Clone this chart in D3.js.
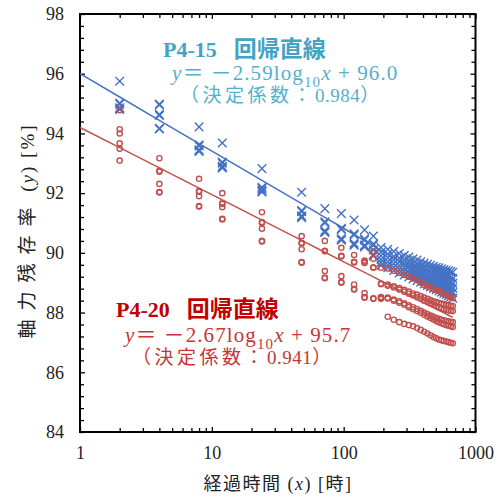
<!DOCTYPE html>
<html>
<head>
<meta charset="utf-8">
<script src="https://cdn.jsdelivr.net/npm/d3@7"></script>
<style>
  body { margin: 0; background: #fff; }
  svg { display: block; }
</style>
</head>
<body>
<svg id="chart" width="501" height="499"></svg>
<script>
// Elapsed time of each measurement [h]
const hours = [2, 4, 8, 12, 24, 48, 72, 96, 120, 144, 168,
  192, 216, 240, 264, 288, 312, 336, 360, 384, 408, 432,
  456, 480, 504, 528, 552, 576, 600, 624, 648, 672];

// Axial force retention [%] of the P4-15 specimens, one row per time
const p415 = [
  [95.75, 95.02, 94.98, 94.86, 94.82, 94.80],
  [94.98, 94.95, 94.64, 94.60, 94.17, 94.15],
  [94.22, 93.62, 93.58, 93.45, 93.42, 93.40],
  [93.68, 93.04, 93.00, 92.90, 92.86, 92.84],
  [92.82, 92.20, 92.16, 92.10, 92.06, 92.04],
  [92.03, 91.42, 91.38, 91.24, 91.20, 91.18],
  [91.48, 91.04, 91.00, 90.74, 90.70, 90.68],
  [91.32, 90.82, 90.78, 90.48, 90.44, 90.42],
  [91.10, 90.64, 90.60, 90.32, 90.28, 90.26],
  [90.77, 90.47, 90.43, 90.26, 90.22, 90.20],
  [90.56, 90.30, 90.26, 90.10, 89.95, 89.90],
  [90.18, 90.02, 89.90, 89.78, 89.68, 89.58],
  [90.12, 89.96, 89.84, 89.71, 89.60, 89.50],
  [90.05, 89.88, 89.76, 89.64, 89.52, 89.41],
  [89.98, 89.82, 89.70, 89.57, 89.45, 89.33],
  [89.92, 89.76, 89.63, 89.50, 89.38, 89.26],
  [89.86, 89.70, 89.57, 89.44, 89.31, 89.19],
  [89.80, 89.64, 89.52, 89.38, 89.25, 89.13],
  [89.76, 89.60, 89.47, 89.33, 89.20, 89.07],
  [89.70, 89.55, 89.42, 89.28, 89.15, 89.02],
  [89.66, 89.50, 89.37, 89.23, 89.10, 88.96],
  [89.62, 89.46, 89.33, 89.19, 89.05, 88.91],
  [89.58, 89.42, 89.29, 89.14, 89.00, 88.86],
  [89.55, 89.38, 89.25, 89.10, 88.96, 88.81],
  [89.52, 89.35, 89.21, 89.06, 88.92, 88.77],
  [89.50, 89.32, 89.18, 89.02, 88.88, 88.72],
  [89.47, 89.28, 89.14, 88.98, 88.84, 88.68],
  [89.44, 89.25, 89.10, 88.95, 88.80, 88.64],
  [89.42, 89.22, 89.07, 88.91, 88.76, 88.60],
  [89.40, 89.20, 89.04, 88.88, 88.73, 88.56],
  [89.37, 89.17, 89.01, 88.85, 88.70, 88.52],
  [89.35, 89.14, 88.98, 88.82, 88.67, 88.48]
];

// Axial force retention [%] of the P4-20 specimens, one row per time
const p420 = [
  [94.78, 94.14, 94.00, 93.67, 93.49, 93.09],
  [93.17, 92.75, 92.72, 92.31, 92.04, 92.02],
  [92.48, 92.07, 92.05, 91.90, 91.57, 91.55],
  [92.00, 91.66, 91.64, 91.53, 91.14, 91.12],
  [91.36, 91.03, 91.00, 90.81, 90.40, 90.38],
  [90.56, 90.34, 90.31, 90.12, 89.69, 89.67],
  [90.40, 90.07, 90.05, 89.39, 89.17, 89.15],
  [90.17, 89.90, 89.88, 89.22, 89.02, 89.00],
  [89.93, 89.70, 89.68, 88.94, 88.79, 88.77],
  [89.74, 89.70, 89.66, 88.65, 88.52, 88.50],
  [90.04, 89.80, 89.52, 89.50, 88.48, 88.46],
  [89.50, 88.97, 88.95, 88.52, 88.50, 88.46],
  [89.48, 88.94, 88.90, 88.50, 88.47, 87.86],
  [89.40, 88.88, 88.84, 88.44, 88.40, 87.76],
  [89.33, 88.82, 88.77, 88.38, 88.33, 87.68],
  [89.26, 88.76, 88.70, 88.31, 88.26, 87.62],
  [89.20, 88.70, 88.63, 88.24, 88.18, 87.58],
  [89.14, 88.64, 88.57, 88.18, 88.11, 87.54],
  [89.09, 88.60, 88.51, 88.12, 88.05, 87.48],
  [89.00, 88.55, 88.46, 88.06, 87.99, 87.42],
  [88.92, 88.50, 88.40, 88.00, 87.93, 87.36],
  [88.87, 88.46, 88.35, 87.95, 87.87, 87.30],
  [88.83, 88.42, 88.30, 87.90, 87.82, 87.24],
  [88.78, 88.38, 88.26, 87.86, 87.77, 87.18],
  [88.75, 88.35, 88.21, 87.82, 87.72, 87.14],
  [88.72, 88.32, 88.17, 87.79, 87.68, 87.10],
  [88.66, 88.30, 88.14, 87.76, 87.64, 87.07],
  [88.62, 88.28, 88.11, 87.74, 87.61, 87.05],
  [88.58, 88.26, 88.09, 87.72, 87.58, 87.03],
  [88.55, 88.25, 88.07, 87.70, 87.56, 87.01],
  [88.52, 88.23, 88.06, 87.69, 87.54, 86.99],
  [88.48, 88.22, 88.05, 87.68, 87.52, 86.97]
];

// Regression lines y = a*log10(x) + b
const fitSlope = [-2.59, -2.25];
const fitIntercept = [96.0, 94.2];

// Axis ticks
const xMajorTicks = [1, 10, 100, 1000];
const yMajorTicks = [84, 86, 88, 90, 92, 94, 96, 98];

const svg = d3.select("#chart");
const M = { left: 80, right: 475.5, top: 14, bottom: 432 };

const x = d3.scaleLog().domain([1, 1000]).range([M.left, M.right]);
const y = d3.scaleLinear().domain([84, 98]).range([M.bottom, M.top]);

const serif = "'Liberation Serif', 'Times New Roman', 'Noto Sans CJK JP', serif";
const cjk = "'Noto Sans CJK JP', sans-serif";

// minor ticks: 2..9 per decade on x, every 0.4 on y
const xMinor = [];
for (let d = 1; d < 1000; d *= 10) for (let k = 2; k <= 9; k++) xMinor.push(d * k);
const yMinor = d3.range(0, 36).filter(k => k % 5 !== 0).map(k => 84 + k * 0.4);

function styleAxis(g) {
  g.select(".domain").remove();
  g.selectAll(".tick line").attr("stroke", "#000").attr("stroke-width", 1.3);
  g.selectAll(".tick text").attr("font-family", serif).attr("font-size", 18).attr("fill", "#222");
}

// bottom
svg.append("g").attr("transform", `translate(0,${M.bottom})`)
  .call(d3.axisBottom(x).tickValues(xMajorTicks).tickFormat(d3.format("d")).tickSize(-5).tickPadding(14))
  .call(styleAxis);
svg.append("g").attr("transform", `translate(0,${M.bottom})`)
  .call(d3.axisBottom(x).tickValues(xMinor).tickFormat("").tickSize(-4))
  .call(styleAxis);
// top
svg.append("g").attr("transform", `translate(0,${M.top})`)
  .call(d3.axisTop(x).tickValues(xMajorTicks).tickFormat("").tickSize(-5))
  .call(styleAxis);
svg.append("g").attr("transform", `translate(0,${M.top})`)
  .call(d3.axisTop(x).tickValues(xMinor).tickFormat("").tickSize(-4))
  .call(styleAxis);
// left
svg.append("g").attr("transform", `translate(${M.left},0)`)
  .call(d3.axisLeft(y).tickValues(yMajorTicks).tickFormat(d3.format("d")).tickSize(-5).tickPadding(16))
  .call(styleAxis);
svg.append("g").attr("transform", `translate(${M.left},0)`)
  .call(d3.axisLeft(y).tickValues(yMinor).tickFormat("").tickSize(-4))
  .call(styleAxis);
// right
svg.append("g").attr("transform", `translate(${M.right},0)`)
  .call(d3.axisRight(y).tickValues(yMajorTicks).tickFormat("").tickSize(-5))
  .call(styleAxis);
svg.append("g").attr("transform", `translate(${M.right},0)`)
  .call(d3.axisRight(y).tickValues(yMinor).tickFormat("").tickSize(-4))
  .call(styleAxis);

// frame
svg.append("rect")
  .attr("x", M.left).attr("y", M.top)
  .attr("width", M.right - M.left).attr("height", M.bottom - M.top)
  .attr("fill", "none").attr("stroke", "#000").attr("stroke-width", 2);

const BLUE = "#4472C4", RED = "#C0504D";

const pts415 = hours.flatMap((h, i) => p415[i].map(v => ({ h, v })));
const pts420 = hours.flatMap((h, i) => p420[i].map(v => ({ h, v })));

// P4-15 markers: crosses
const cs = 4.3;
svg.append("g").selectAll("path").data(pts415).join("path")
  .attr("d", d => {
    const px = x(d.h), py = y(d.v);
    return `M${px - cs},${py - cs}L${px + cs},${py + cs}M${px - cs},${py + cs}L${px + cs},${py - cs}`;
  })
  .attr("stroke", BLUE).attr("stroke-width", 1.4).attr("fill", "none");

// P4-20 markers: open circles
svg.append("g").selectAll("circle").data(pts420).join("circle")
  .attr("cx", d => x(d.h)).attr("cy", d => y(d.v)).attr("r", 2.6)
  .attr("fill", "none").attr("stroke", RED).attr("stroke-width", 1.4);

// regression lines, from x = 1 to the last measurement
const lineGen = d3.line().x(d => x(d[0])).y(d => y(d[1]));
[BLUE, RED].forEach((c, i) => {
  const xs = [1].concat(hours);
  svg.append("path")
    .attr("d", lineGen(xs.map(h => [h, fitSlope[i] * Math.log10(h) + fitIntercept[i]])))
    .attr("fill", "none").attr("stroke", c).attr("stroke-width", 1.5);
});

// equation annotations
function annotate(o) {
  const g = svg.append("g");
  const t1 = g.append("text").attr("x", o.x1).attr("y", o.y1)
    .attr("font-family", serif).attr("font-weight", "bold").attr("font-size", 22).attr("fill", o.c1);
  t1.append("tspan").text(o.name);
  t1.append("tspan").attr("dx", 17).attr("font-family", cjk).attr("font-size", 23).text("回帰直線");

  const t2 = g.append("text").attr("x", o.x2).attr("y", o.y2)
    .attr("font-family", serif).attr("font-size", 21).attr("letter-spacing", 1.1).attr("fill", o.c2);
  t2.append("tspan").attr("font-style", "italic").text("y");
  t2.append("tspan").attr("font-family", cjk).text("＝");
  t2.append("tspan").attr("font-family", cjk).attr("dx", 6).text("－");
  t2.append("tspan").text(o.slope + "log");
  t2.append("tspan").attr("font-size", 15).attr("dy", 7).text("10");
  t2.append("tspan").attr("font-style", "italic").attr("dy", -7).text("x");
  t2.append("tspan").text(" + " + o.icpt);

  const t3 = g.append("text").attr("x", o.x3).attr("y", o.y3)
    .attr("font-family", serif).attr("font-size", 19).attr("fill", o.c2);
  t3.append("tspan").attr("font-family", cjk).attr("letter-spacing", 3.5).text("（決定係数：");
  t3.append("tspan").attr("letter-spacing", 0.5).text(o.r2);
  t3.append("tspan").attr("font-family", cjk).text("）");
}

annotate({ name: "P4-15", slope: "2.59", icpt: "96.0", r2: "0.984",
  x1: 163, y1: 56.5, x2: 172, y2: 80, x3: 180, y3: 102,
  c1: "#42A3C3", c2: "#55B0CC" });
annotate({ name: "P4-20", slope: "2.67", icpt: "95.7", r2: "0.941",
  x1: 116, y1: 316.5, x2: 125, y2: 341.5, x3: 132, y3: 364,
  c1: "#C00000", c2: "#C63636" });

// axis titles
const xt = svg.append("text").attr("x", 278).attr("y", 490).attr("text-anchor", "middle")
  .attr("font-family", serif).attr("font-size", 18).attr("letter-spacing", 1.5).attr("fill", "#222");
xt.append("tspan").attr("font-family", cjk).text("経過時間");
xt.append("tspan").text(" (");
xt.append("tspan").attr("font-style", "italic").text("x");
xt.append("tspan").text(") [");
xt.append("tspan").attr("font-family", cjk).text("時");
xt.append("tspan").text("]");

const yt = svg.append("text").attr("transform", "translate(34,231) rotate(-90)").attr("text-anchor", "middle")
  .attr("font-family", serif).attr("font-size", 19).attr("fill", "#222");
yt.append("tspan").attr("font-family", cjk).attr("letter-spacing", 9).text("軸力残存率");
yt.append("tspan").attr("letter-spacing", 2).text(" (");
yt.append("tspan").attr("letter-spacing", 2).attr("font-style", "italic").text("y");
yt.append("tspan").attr("letter-spacing", 2).text(") [%]");
</script>
</body>
</html>
